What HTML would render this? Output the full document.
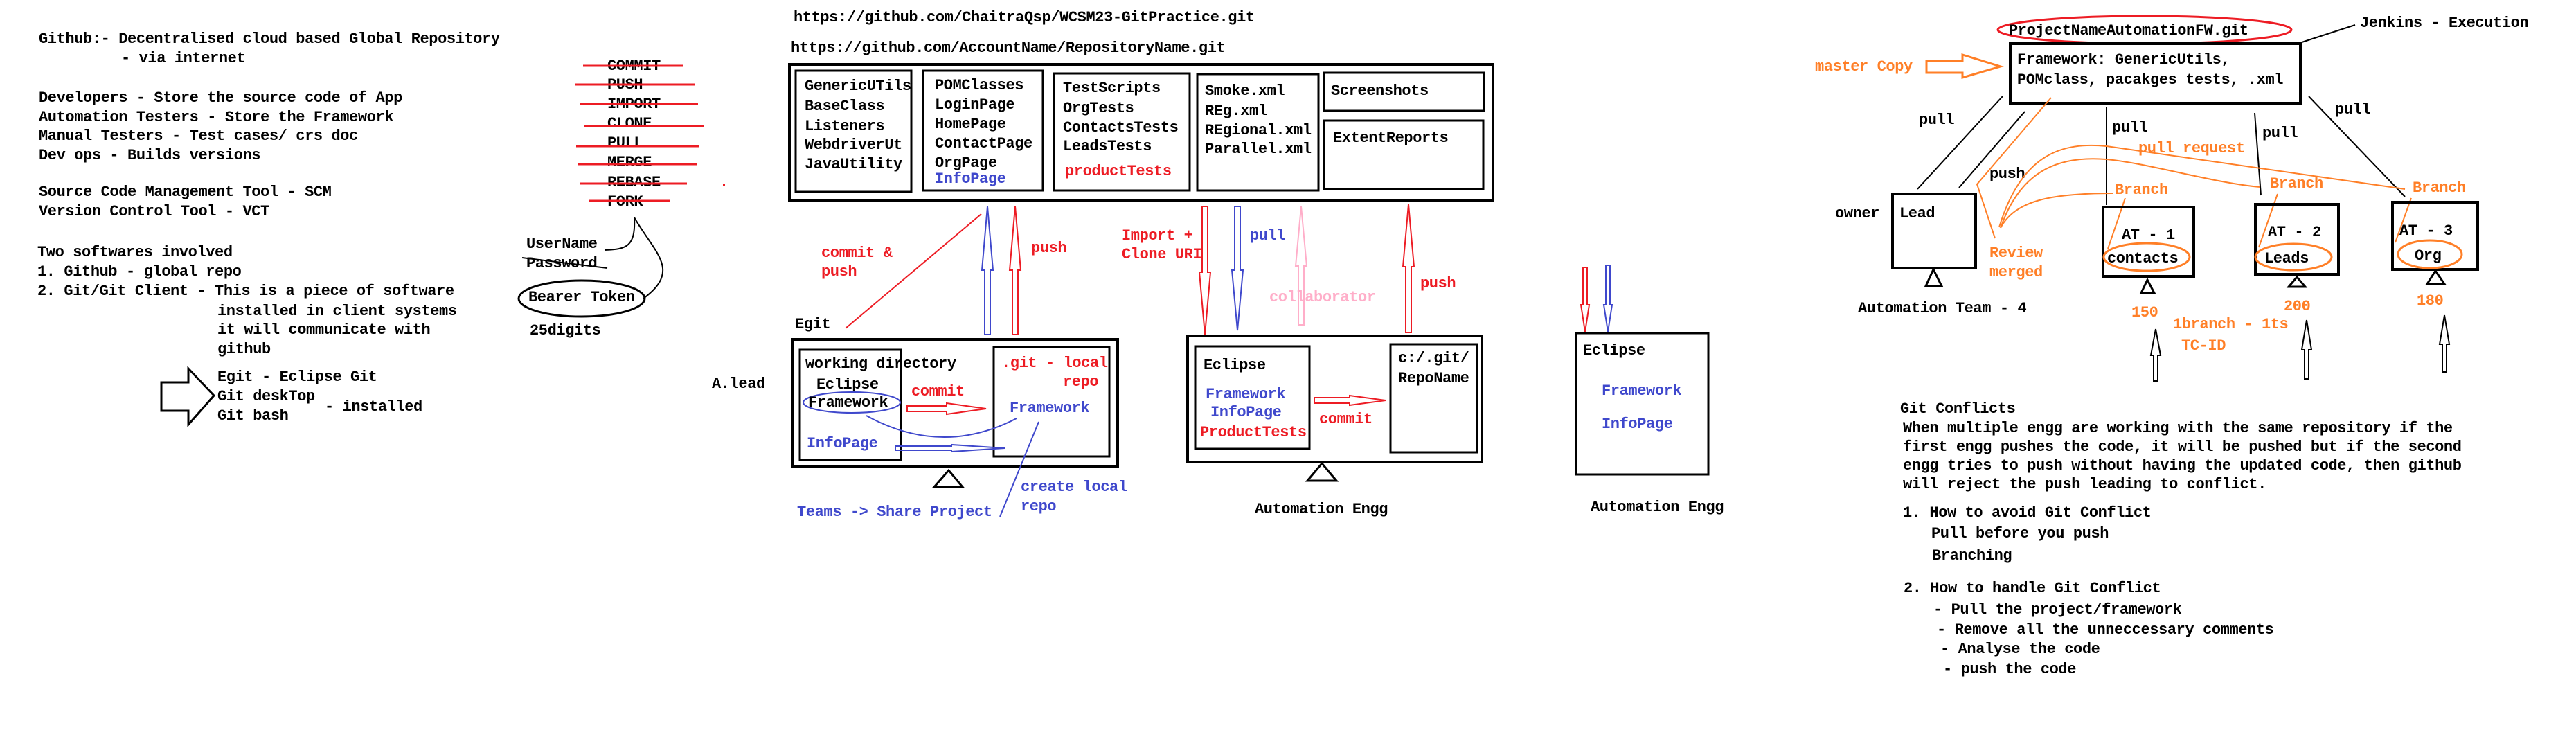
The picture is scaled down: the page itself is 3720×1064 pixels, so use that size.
<!DOCTYPE html>
<html><head><meta charset="utf-8"><style>
html,body{margin:0;padding:0;background:#fff;}
svg{display:block;}
text{font-family:"Liberation Mono",monospace;font-weight:bold;font-size:22px;letter-spacing:-0.4px;fill:#000;}
.r{fill:#ED1C24}.b{fill:#3F48CC}.o{fill:#FF7F27}.p{fill:#FFAEC9}
</style></head><body>
<svg width="3720" height="1064" viewBox="0 0 3720 1064" xmlns="http://www.w3.org/2000/svg">
<rect width="3720" height="1064" fill="#fff"/>

<!-- left notes -->
<g>
<text x="56" y="62">Github:- Decentralised cloud based Global  Repository</text>
<text x="175" y="90">- via internet</text>
<text x="56" y="147">Developers - Store the source code of App</text>
<text x="56" y="175">Automation Testers - Store the Framework</text>
<text x="56" y="202">Manual Testers - Test cases/ crs doc</text>
<text x="56" y="230">Dev ops    - Builds versions</text>
<text x="56" y="283">Source Code Management Tool - SCM</text>
<text x="56" y="311">Version Control Tool - VCT</text>
<text x="54" y="370">Two softwares involved</text>
<text x="54" y="398">1. Github - global repo</text>
<text x="54" y="426">2. Git/Git Client - This is a piece of software</text>
<text x="314" y="455">installed in client systems</text>
<text x="314" y="482">it will communicate with</text>
<text x="314" y="510">github</text>
<text x="314" y="550">Egit - Eclipse Git</text>
<text x="314" y="578">Git deskTop</text>
<text x="469" y="593">- installed</text>
<text x="314" y="606">Git bash</text>
<polygon points="233,552 272,552 272,532 309,571 272,613 272,593 233,593" fill="none" stroke="#000" stroke-width="3"/>
</g>

<g>
<text x="877" y="101">COMMIT</text><text x="877" y="128">PUSH</text><text x="877" y="156">IMPORT</text><text x="877" y="184">CLONE</text>
<text x="877" y="212">PULL</text><text x="877" y="240">MERGE</text><text x="877" y="269">REBASE</text><text x="877" y="297">FORK</text>
<g stroke="#ED1C24" stroke-width="3">
<line x1="842" y1="95" x2="986" y2="95"/><line x1="830" y1="122" x2="1003" y2="122"/>
<line x1="838" y1="150" x2="1008" y2="150"/><line x1="844" y1="182" x2="1017" y2="182"/>
<line x1="832" y1="211" x2="1010" y2="211"/><line x1="834" y1="237" x2="1006" y2="237"/>
<line x1="838" y1="265" x2="992" y2="265"/><line x1="851" y1="290" x2="968" y2="290"/>
</g>
<rect x="1044" y="265" width="3" height="3" fill="#ED1C24"/>
<text x="760" y="358">UserName</text>
<text x="760" y="386">Password</text>
<line x1="754" y1="372" x2="877" y2="387" stroke="#000" stroke-width="2"/>
<path d="M873,361 C905,360 918,356 916,314 C945,365 985,390 929,431" fill="none" stroke="#000" stroke-width="2"/>
<ellipse cx="840" cy="431" rx="91" ry="26" fill="none" stroke="#000" stroke-width="3"/>
<text x="763" y="435">Bearer Token</text>
<text x="765" y="483">25digits</text>
<text x="1028" y="560">A.lead</text>
</g>

<!-- middle repository -->
<g>
<text x="1146" y="31">https://github.com/ChaitraQsp/WCSM23-GitPractice.git</text>
<text x="1142" y="75">https://github.com/AccountName/RepositoryName.git</text>
<rect x="1140" y="93" width="1016" height="197" fill="none" stroke="#000" stroke-width="4"/>
<rect x="1149" y="102" width="167" height="175" fill="none" stroke="#000" stroke-width="3"/>
<text x="1162" y="130">GenericUTils</text><text x="1162" y="159">BaseClass</text><text x="1162" y="188">Listeners</text><text x="1162" y="215">WebdriverUt</text><text x="1162" y="243">JavaUtility</text>
<rect x="1333" y="102" width="173" height="173" fill="none" stroke="#000" stroke-width="3"/>
<text x="1350" y="129">POMClasses</text><text x="1350" y="157">LoginPage</text><text x="1350" y="185">HomePage</text><text x="1350" y="213">ContactPage</text><text x="1350" y="241">OrgPage</text><text x="1350" y="264" class="b">InfoPage</text>
<rect x="1522" y="106" width="196" height="169" fill="none" stroke="#000" stroke-width="3"/>
<text x="1535" y="133">TestScripts</text><text x="1535" y="162">OrgTests</text><text x="1535" y="190">ContactsTests</text><text x="1535" y="217">LeadsTests</text><text x="1538" y="253" class="r">productTests</text>
<rect x="1729" y="107" width="175" height="168" fill="none" stroke="#000" stroke-width="3"/>
<text x="1740" y="137">Smoke.xml</text><text x="1740" y="166">REg.xml</text><text x="1740" y="194">REgional.xml</text><text x="1740" y="221">Parallel.xml</text>
<rect x="1912" y="105" width="231" height="55" fill="none" stroke="#000" stroke-width="3"/>
<text x="1922" y="137">Screenshots</text>
<rect x="1912" y="174" width="230" height="99" fill="none" stroke="#000" stroke-width="3"/>
<text x="1925" y="205">ExtentReports</text>

<g fill="none" stroke-width="2">
<polygon stroke="#3F48CC" points="1426,298 1434,390 1430,390 1430,483 1422,483 1422,390 1418,390"/>
<polygon stroke="#ED1C24" points="1466,298 1474,390 1470,390 1470,483 1462,483 1462,390 1458,390"/>
<polygon stroke="#ED1C24" points="1740,483 1748,393 1744,393 1744,298 1736,298 1736,393 1732,393"/>
<polygon stroke="#3F48CC" points="1787,477 1795,390 1791,390 1791,298 1783,298 1783,390 1779,390"/>
<polygon stroke="#FFAEC9" points="1879,298 1887,384 1883,384 1883,469 1875,469 1875,384 1871,384"/>
<polygon stroke="#ED1C24" points="2034,295 2042,385 2038,385 2038,480 2030,480 2030,385 2026,385"/>
</g>
<text x="1489" y="364" class="r">push</text>
<line x1="1417" y1="309" x2="1221" y2="474" stroke="#ED1C24" stroke-width="2"/>
<text x="1186" y="371" class="r">commit &amp;</text><text x="1186" y="398" class="r">push</text>
<text x="1148" y="474">Egit</text>
<text x="1620" y="346" class="r">Import +</text><text x="1620" y="373" class="r">Clone URI</text>
<text x="1805" y="346" class="b">pull</text>
<text x="1833" y="435" class="p">collaborator</text>
<text x="2051" y="415" class="r">push</text>

<!-- Egit box -->
<rect x="1144" y="490" width="470" height="184" fill="none" stroke="#000" stroke-width="4"/>
<rect x="1155" y="505" width="146" height="159" fill="none" stroke="#000" stroke-width="3"/>
<text x="1163" y="531">working directory</text>
<text x="1179" y="561">Eclipse</text>
<ellipse cx="1230" cy="581" rx="70" ry="15" fill="none" stroke="#3F48CC" stroke-width="2"/>
<text x="1167" y="587">Framework</text>
<text x="1165" y="646" class="b">InfoPage</text>
<rect x="1435" y="501" width="167" height="158" fill="none" stroke="#000" stroke-width="3"/>
<text x="1446" y="530" class="r">.git - local</text><text x="1535" y="557" class="r">repo</text>
<text x="1458" y="595" class="b">Framework</text>
<text x="1316" y="571" class="r">commit</text>
<polygon fill="none" stroke="#ED1C24" stroke-width="2" points="1424,590 1367,582 1367,586 1310,586 1310,594 1367,594 1367,598"/>
<path d="M1251,600 Q1360,660 1468,604" fill="none" stroke="#3F48CC" stroke-width="2"/>
<polygon fill="none" stroke="#3F48CC" stroke-width="2" points="1451,647 1374,642 1374,644 1293,644 1293,650 1374,650 1374,652"/>
<line x1="1500" y1="609" x2="1444" y2="746" stroke="#3F48CC" stroke-width="2"/>
<polygon points="1370,679 1349,703 1390,703" fill="none" stroke="#000" stroke-width="3"/>
<text x="1151" y="745" class="b">Teams -&gt; Share Project</text>
<text x="1474" y="709" class="b">create local</text><text x="1474" y="737" class="b">repo</text>

<!-- Automation engg box -->
<rect x="1715" y="485" width="425" height="182" fill="none" stroke="#000" stroke-width="4"/>
<rect x="1726" y="500" width="165" height="148" fill="none" stroke="#000" stroke-width="3"/>
<text x="1738" y="533">Eclipse</text>
<text x="1741" y="575" class="b">Framework</text><text x="1748" y="601" class="b">InfoPage</text><text x="1733" y="630" class="r">ProductTests</text>
<rect x="2008" y="497" width="125" height="156" fill="none" stroke="#000" stroke-width="3"/>
<text x="2019" y="523">c:/.git/</text><text x="2019" y="552">RepoName</text>
<polygon fill="none" stroke="#ED1C24" stroke-width="2" points="2001,578 1949,571 1949,574 1898,574 1898,582 1949,582 1949,585"/>
<text x="1905" y="611" class="r">commit</text>
<polygon points="1909,669 1888,694 1930,694" fill="none" stroke="#000" stroke-width="3"/>
<text x="1812" y="741">Automation Engg</text>

<!-- second eclipse -->
<polygon fill="none" stroke="#ED1C24" stroke-width="2" points="2289,479 2295,440 2292,440 2292,386 2286,386 2286,440 2283,440"/>
<polygon fill="none" stroke="#3F48CC" stroke-width="2" points="2322,479 2328,440 2325,440 2325,383 2319,383 2319,440 2316,440"/>
<rect x="2276" y="481" width="191" height="204" fill="none" stroke="#000" stroke-width="3"/>
<text x="2286" y="512">Eclipse</text>
<text x="2313" y="570" class="b">Framework</text><text x="2313" y="618" class="b">InfoPage</text>
<text x="2297" y="738">Automation Engg</text>
</g>

<!-- right branching diagram -->
<g>
<ellipse cx="3097" cy="43" rx="212" ry="20" fill="none" stroke="#ED1C24" stroke-width="3"/>
<text x="2901" y="50">ProjectNameAutomationFW.git</text>
<text x="3408" y="39">Jenkins - Execution</text>
<line x1="3324" y1="61" x2="3401" y2="36" stroke="#000" stroke-width="2"/>
<rect x="2903" y="63" width="419" height="86" fill="none" stroke="#000" stroke-width="4"/>
<text x="2913" y="92">Framework: GenericUtils,</text>
<text x="2913" y="121">POMclass, pacakges tests, .xml</text>
<text x="2621" y="102" class="o">master Copy</text>
<polygon points="2782,88 2834,88 2834,79 2889,96 2834,112 2834,105 2782,105" fill="none" stroke="#FF7F27" stroke-width="3"/>
<g stroke="#000" stroke-width="2">
<line x1="2892" y1="139" x2="2769" y2="273"/>
<line x1="2924" y1="161" x2="2829" y2="271"/>
<line x1="3042" y1="155" x2="3042" y2="296"/>
<line x1="3256" y1="163" x2="3265" y2="282"/>
<line x1="3334" y1="139" x2="3473" y2="284"/>
</g>
<text x="2771" y="179">pull</text><text x="2873" y="257">push</text>
<text x="3050" y="190">pull</text><text x="3267" y="198">pull</text><text x="3372" y="164">pull</text>
<g stroke="#FF7F27" stroke-width="2" fill="none">
<polyline points="2962,141 2855,266 2881,344"/>
<path d="M2887,328 C2920,220 2980,205 3042,211 L3473,273"/>
<path d="M2889,329 C2920,240 2980,225 3042,230 C3100,235 3200,265 3264,270"/>
<path d="M2889,329 C2910,290 2960,279 3052,279"/>
<line x1="3069" y1="286" x2="3044" y2="359"/>
<line x1="3289" y1="280" x2="3262" y2="357"/>
<line x1="3482" y1="286" x2="3459" y2="350"/>
</g>
<text x="3088" y="220" class="o">pull request</text>
<rect x="2733" y="280" width="120" height="107" fill="none" stroke="#000" stroke-width="4"/>
<text x="2743" y="314">Lead</text><text x="2650" y="314">owner</text>
<polygon points="2792,389 2781,413 2804,413" fill="none" stroke="#000" stroke-width="3"/>
<text x="2683" y="451">Automation Team - 4</text>
<text x="2873" y="371" class="o">Review</text><text x="2873" y="399" class="o">merged</text>
<rect x="3037" y="299" width="131" height="100" fill="none" stroke="#000" stroke-width="4"/>
<text x="3064" y="345">AT - 1</text>
<ellipse cx="3100" cy="371" rx="62" ry="20" fill="none" stroke="#FF7F27" stroke-width="3"/>
<text x="3043" y="379">contacts</text>
<text x="3054" y="280" class="o">Branch</text>
<rect x="3257" y="295" width="120" height="101" fill="none" stroke="#000" stroke-width="4"/>
<text x="3275" y="341">AT - 2</text>
<ellipse cx="3312" cy="371" rx="55" ry="19" fill="none" stroke="#FF7F27" stroke-width="3"/>
<text x="3270" y="379">Leads</text>
<text x="3278" y="271" class="o">Branch</text>
<rect x="3455" y="292" width="123" height="97" fill="none" stroke="#000" stroke-width="4"/>
<text x="3465" y="339">AT - 3</text>
<ellipse cx="3509" cy="367" rx="46" ry="20" fill="none" stroke="#FF7F27" stroke-width="3"/>
<text x="3487" y="375">Org</text>
<text x="3484" y="277" class="o">Branch</text>
<polygon points="3101,404 3092,423 3111,423" fill="none" stroke="#000" stroke-width="3"/>
<polygon points="3317,400 3305,414 3329,414" fill="none" stroke="#000" stroke-width="3"/>
<polygon points="3517,391 3505,410 3530,410" fill="none" stroke="#000" stroke-width="3"/>
<text x="3078" y="457" class="o">150</text><text x="3298" y="448" class="o">200</text><text x="3490" y="440" class="o">180</text>
<text x="3138" y="474" class="o">1branch - 1ts</text><text x="3150" y="505" class="o">TC-ID</text>
<g fill="none" stroke="#000" stroke-width="2">
<polygon points="3113,475 3120,513 3116,513 3116,550 3110,550 3110,513 3106,513"/>
<polygon points="3331,462 3338,505 3334,505 3334,547 3328,547 3328,505 3324,505"/>
<polygon points="3530,455 3537,497 3533,497 3533,537 3527,537 3527,497 3523,497"/>
</g>
</g>

<!-- git conflicts -->
<g>
<text x="2744" y="596">Git Conflicts</text>
<text x="2748" y="624">When multiple engg are working with the same repository if the</text>
<text x="2748" y="651">first engg pushes the code, it will be pushed but if the second</text>
<text x="2748" y="678">engg tries to push without having the updated code, then github</text>
<text x="2748" y="705">will reject the push leading to conflict.</text>
<text x="2748" y="746">1. How to avoid Git Conflict</text>
<text x="2789" y="776">Pull before you push</text>
<text x="2790" y="808">Branching</text>
<text x="2749" y="855">2. How to handle Git Conflict</text>
<text x="2792" y="886">- Pull the project/framework</text>
<text x="2797" y="915">- Remove all the unneccessary comments</text>
<text x="2802" y="943">- Analyse the code</text>
<text x="2806" y="972">- push the code</text>
</g>
</svg>
</body></html>
